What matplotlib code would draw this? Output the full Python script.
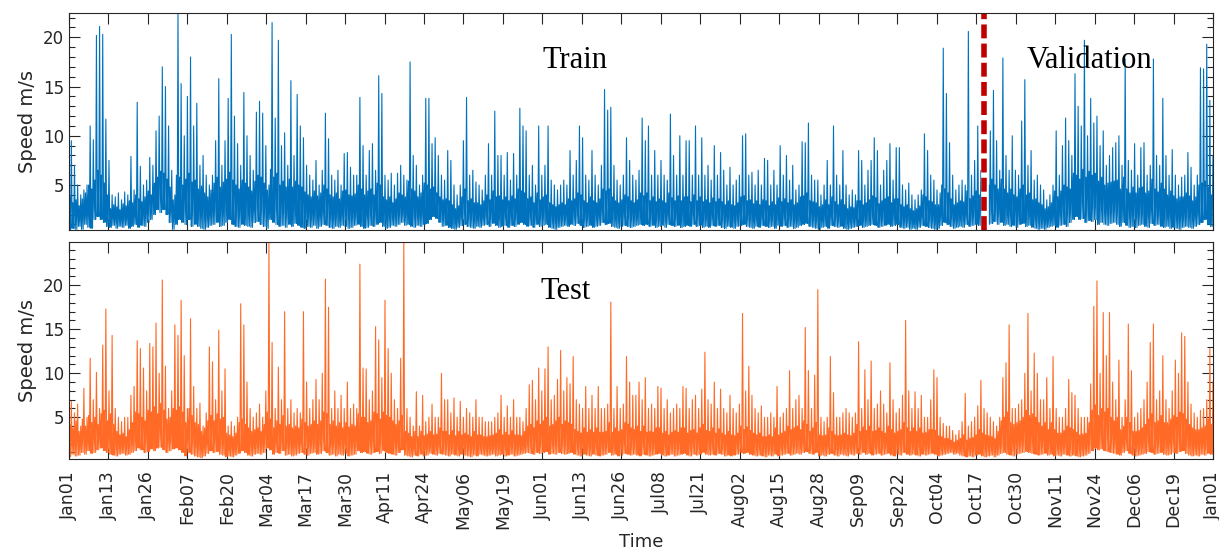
import matplotlib
matplotlib.use("Agg")
import matplotlib.pyplot as plt
import numpy as np
from matplotlib.ticker import MultipleLocator

plt.rcParams['font.family'] = ['DejaVu Sans']

# day labels shown under the lower panel (evenly spread over one year)
tick_labels = ['Jan01', 'Jan13', 'Jan26', 'Feb07', 'Feb20', 'Mar04', 'Mar17', 'Mar30',
               'Apr11', 'Apr24', 'May06', 'May19', 'Jun01', 'Jun13', 'Jun26', 'Jul08',
               'Jul21', 'Aug02', 'Aug15', 'Aug28', 'Sep09', 'Sep22', 'Oct04', 'Oct17',
               'Oct30', 'Nov11', 'Nov24', 'Dec06', 'Dec19', 'Jan01']

# train/validation split (day of year)
split_day = 291.8

# daily wind speed (m/s): peak, top of the dense band, floor
train_max = [
    9.5, 7, 5, 4, 4.5, 5, 11, 9.6, 20.2, 21.1,
    20.3, 11.7, 7.5, 4, 3.8, 4.2, 3.5, 4.3, 4, 7.9,
    4.5, 13.4, 6.9, 5, 5.5, 7.8, 7, 10.5, 12, 17,
    15, 11, 6.5, 4, 22.5, 15.3, 10, 14, 18, 11,
    13.3, 7, 8, 6, 5, 6, 9.5, 15.8, 7, 9.5,
    13.8, 20.3, 12, 9.2, 7, 14.4, 10, 8, 6.5, 12.4,
    13.5, 12.3, 9, 5, 21.5, 11.8, 19.7, 9, 10.3, 7,
    15.6, 8, 14.2, 11, 9.8, 7, 6, 5.5, 7.5, 5,
    6.5, 12.3, 9.7, 6, 5.5, 6.5, 5, 8.2, 8.3, 6.8,
    6, 6, 13.9, 9, 6, 8.5, 9.2, 6.5, 16.1, 14.3,
    6, 5.5, 6.2, 5, 6.2, 7, 6, 5.5, 17.5, 8,
    7, 5, 6, 13.8, 13.8, 9.2, 9.8, 8, 6, 5.5,
    8.5, 7.5, 5, 4, 5, 9.5, 13.9, 6, 6.5, 5.3,
    5, 4.5, 6, 9.2, 6, 12.5, 8, 8, 6, 8.3,
    5.5, 8.2, 6, 12.8, 11, 10.5, 6, 7, 5, 11,
    6, 7, 11, 5.5, 5, 4.5, 5, 5.5, 5, 8.5,
    6, 7.5, 11, 9.8, 6, 5.5, 8.5, 6, 5, 7,
    14.7, 12.6, 12.9, 7, 5.5, 5, 6, 9.8, 7.5, 6,
    5.5, 6.5, 11.8, 9.5, 11, 6, 8.5, 6, 7.5, 6,
    5.5, 12.2, 8, 6, 10, 6, 9.5, 9.5, 6, 11,
    6, 9.8, 6, 7, 5.5, 9, 6, 8.3, 6.5, 5,
    6.8, 5, 5.5, 6, 10, 10.2, 6, 6.3, 5, 6.5,
    5, 7.7, 7.5, 5, 6.5, 5, 9, 6, 8, 5.5,
    7, 4.5, 5, 9.4, 9.3, 11.3, 6, 5.5, 5.5, 4,
    5, 7.5, 5, 11, 6, 5, 8.5, 5, 4, 4.5,
    4, 8.5, 7.5, 5, 6.5, 7.5, 9.8, 8.5, 5, 6.5,
    7.5, 9.2, 5.5, 8.8, 8.8, 5, 4.5, 5.2, 4, 3.5,
    4, 4.5, 10.2, 8.5, 6, 5.5, 4.5, 4.2, 18.9, 14.3,
    9.3, 6, 4.5, 5, 5.5, 5, 20.6, 6, 7.5, 11,
    6.5, 5, 7, 10.5, 14.6, 9.5, 6.5, 17.9, 8, 6.5,
    10, 6.5, 6, 11.5, 15.7, 7, 8.5, 5.5, 6, 5,
    4.5, 3.5, 4, 5, 10.5, 6, 9, 11.8, 9.5, 8,
    16.3, 13, 11, 19.7, 10, 13.8, 11.3, 12, 9, 10.5,
    7, 8, 8.8, 9.3, 10, 7, 17.8, 7.5, 6.5, 9.2,
    6, 8.8, 9.3, 6, 7, 17.8, 8, 7, 13.8, 8,
    6, 8.6, 6, 5, 5.8, 6, 8.3, 6.8, 5, 6,
    16.9, 16.8, 19.3, 13.6, 8,
]
train_band = [
    3.8, 3.2, 3.5, 2.9, 3.6, 4.2, 5.0, 4.6, 5.5, 6.5,
    6.0, 5.2, 4.0, 2.6, 3.0, 2.8, 2.5, 3.1, 2.9, 3.4,
    3.2, 4.0, 3.6, 3.3, 3.8, 4.4, 4.0, 5.2, 5.8, 6.4,
    6.2, 5.6, 4.8, 3.5, 6.0, 5.8, 5.0, 5.6, 6.2, 5.3,
    5.5, 4.6, 4.9, 4.2, 3.8, 4.5, 5.2, 5.8, 4.8, 5.3,
    5.6, 6.3, 5.5, 5.0, 4.6, 5.5, 5.2, 4.8, 4.4, 5.4,
    6.0, 5.8, 5.2, 4.5, 6.6, 5.8, 6.2, 5.0, 5.4, 4.8,
    5.6, 4.8, 5.4, 5.0, 4.8, 4.3, 4.0, 3.8, 4.4, 3.9,
    4.2, 5.0, 4.6, 4.0, 3.8, 4.2, 3.6, 4.4, 4.5, 4.0,
    3.9, 4.1, 5.0, 4.6, 4.0, 4.4, 4.6, 4.0, 5.2, 5.0,
    3.8, 3.5, 3.8, 3.2, 3.6, 4.2, 4.0, 3.8, 5.4, 4.6,
    4.4, 3.8, 4.2, 5.2, 5.0, 4.6, 4.8, 4.2, 3.8, 3.5,
    3.6, 3.4, 3.0, 2.6, 2.9, 3.8, 4.6, 3.4, 3.6, 3.2,
    3.2, 3.0, 3.4, 4.0, 3.5, 4.4, 3.8, 3.9, 3.5, 3.8,
    3.4, 3.9, 3.6, 4.6, 4.4, 4.2, 3.6, 3.8, 3.2, 4.2,
    3.5, 3.8, 4.0, 3.2, 3.0, 2.8, 3.0, 3.2, 3.0, 3.6,
    3.4, 3.6, 4.2, 4.0, 3.4, 3.2, 3.8, 3.4, 3.2, 3.6,
    4.6, 4.4, 4.6, 3.8, 3.4, 3.2, 3.5, 4.0, 3.8, 3.4,
    3.2, 3.5, 4.2, 3.9, 4.2, 3.4, 3.8, 3.3, 3.6, 3.4,
    3.2, 4.2, 3.7, 3.4, 3.9, 3.4, 3.8, 3.8, 3.3, 4.0,
    3.4, 3.8, 3.3, 3.5, 3.2, 3.7, 3.3, 3.6, 3.3, 3.0,
    3.4, 3.0, 2.9, 3.2, 3.8, 3.9, 3.4, 3.5, 3.1, 3.4,
    3.0, 3.5, 3.4, 2.9, 3.3, 3.0, 3.7, 3.3, 3.6, 3.2,
    3.5, 3.0, 3.2, 3.8, 3.9, 4.2, 3.4, 3.3, 3.2, 2.8,
    3.0, 3.5, 3.0, 3.8, 3.3, 3.0, 3.5, 3.0, 2.6, 2.8,
    2.7, 3.4, 3.4, 3.0, 3.2, 3.5, 3.9, 3.7, 3.1, 3.4,
    3.6, 3.8, 3.2, 3.6, 3.6, 3.0, 2.8, 3.0, 2.6, 2.4,
    2.6, 2.9, 4.0, 3.8, 3.4, 3.3, 3.0, 3.0, 5.0, 4.6,
    4.2, 3.6, 3.0, 3.2, 3.4, 3.3, 4.4, 3.6, 3.9, 4.4,
    4.0, 3.8, 4.4, 5.0, 5.6, 5.0, 4.6, 5.6, 4.6, 4.2,
    4.6, 4.0, 3.8, 4.6, 5.0, 4.0, 4.2, 3.5, 3.6, 3.2,
    3.0, 2.6, 2.8, 3.2, 4.4, 3.8, 4.4, 5.0, 4.8, 4.6,
    6.2, 6.0, 5.6, 6.6, 5.8, 6.4, 6.0, 6.2, 5.4, 5.8,
    5.0, 5.2, 5.3, 5.4, 5.5, 4.6, 5.8, 4.6, 4.2, 4.8,
    4.2, 4.7, 4.8, 4.2, 4.4, 5.6, 4.6, 4.3, 5.2, 4.6,
    4.0, 4.4, 3.9, 3.6, 3.8, 3.8, 4.2, 3.9, 3.4, 3.8,
    5.0, 5.2, 5.4, 4.8, 4.0,
]
train_min = [
    0.5, 0.6, 0.5, 0.8, 0.5, 1.0, 0.7, 0.6, 1.5, 1.8,
    1.5, 1.2, 0.8, 0.7, 0.9, 0.6, 0.8, 0.7, 0.9, 0.6,
    0.8, 1.0, 0.7, 0.9, 0.8, 1.2, 1.5, 2.0, 2.5, 2.2,
    2.5, 2.0, 1.2, 0.5, 1.0, 1.5, 1.2, 1.0, 1.5, 0.8,
    1.0, 0.8, 0.6, 0.5, 0.7, 0.9, 1.0, 1.2, 0.8, 0.9,
    1.2, 1.5, 1.0, 0.8, 0.7, 1.0, 0.9, 0.8, 0.7, 1.2,
    1.3, 1.0, 0.8, 0.6, 1.5, 1.2, 1.0, 0.8, 0.9, 0.7,
    1.0, 0.8, 1.1, 0.9, 0.7, 0.6, 0.8, 0.7, 0.9, 0.6,
    0.8, 1.0, 0.9, 0.7, 0.6, 0.8, 0.7, 0.9, 0.8, 0.6,
    0.7, 0.9, 1.0, 0.8, 0.6, 0.7, 0.9, 0.8, 1.0, 1.2,
    0.8, 0.6, 0.7, 0.9, 0.8, 1.0, 1.2, 0.9, 1.0, 0.8,
    0.7, 0.9, 0.8, 1.0, 1.1, 1.5, 1.8, 1.6, 1.2, 0.8,
    0.9, 0.7, 0.6, 0.5, 0.7, 0.9, 1.0, 0.8, 0.7, 0.6,
    0.8, 0.7, 0.9, 1.0, 0.8, 1.1, 0.9, 0.7, 0.8, 0.9,
    0.7, 0.9, 0.8, 1.0, 1.2, 1.0, 0.8, 0.9, 0.7, 1.0,
    0.8, 0.9, 1.0, 0.7, 0.6, 0.5, 0.7, 0.8, 0.9, 0.8,
    1.0, 0.9, 1.1, 0.9, 0.7, 0.8, 0.9, 0.7, 0.8, 0.9,
    1.2, 1.0, 1.1, 0.8, 0.7, 0.6, 0.8, 0.9, 0.8, 0.7,
    0.8, 0.9, 1.0, 0.9, 1.0, 0.8, 0.9, 0.7, 0.8, 0.9,
    0.7, 1.0, 0.9, 0.8, 0.9, 0.7, 0.8, 0.9, 0.8, 1.0,
    0.8, 0.9, 0.7, 0.8, 0.7, 0.9, 0.8, 0.9, 0.7, 0.6,
    0.8, 0.7, 0.6, 0.8, 0.9, 1.0, 0.8, 0.7, 0.6, 0.8,
    0.7, 0.9, 0.8, 0.7, 0.8, 0.6, 0.9, 0.8, 0.9, 0.7,
    0.8, 0.6, 0.7, 0.9, 1.0, 1.1, 0.8, 0.7, 0.6, 0.5,
    0.7, 0.8, 0.6, 0.9, 0.8, 0.7, 0.8, 0.6, 0.5, 0.6,
    0.7, 0.8, 0.9, 0.7, 0.8, 0.9, 1.0, 0.9, 0.7, 0.8,
    0.9, 1.0, 0.8, 0.9, 1.0, 0.7, 0.6, 0.7, 0.5, 0.6,
    0.5, 0.7, 0.9, 0.8, 0.7, 0.6, 0.5, 0.6, 0.9, 1.2,
    1.0, 0.8, 0.6, 0.7, 0.8, 0.7, 1.0, 0.8, 0.9, 1.0,
    0.9, 0.8, 1.2, 1.0, 1.1, 1.3, 1.0, 1.2, 0.9, 1.0,
    0.8, 0.9, 0.7, 1.0, 1.1, 0.8, 0.9, 0.7, 0.6, 0.5,
    0.6, 0.5, 0.7, 0.8, 0.9, 0.7, 0.9, 1.0, 0.8, 1.2,
    1.5, 1.8, 1.5, 1.6, 1.2, 1.4, 1.3, 1.5, 1.0, 1.2,
    1.0, 0.9, 1.1, 1.2, 1.0, 0.8, 1.2, 0.9, 0.7, 0.8,
    0.7, 0.9, 1.0, 0.8, 0.7, 1.1, 0.9, 1.0, 0.8, 0.7,
    0.8, 0.6, 0.7, 0.6, 0.5, 0.7, 0.8, 0.7, 0.6, 0.8,
    1.0, 1.2, 1.5, 1.0, 0.8,
]

test_max = [
    6.8, 5.5, 6.5, 4, 8.3, 5, 11.7, 7, 10.1, 6,
    13.2, 17.3, 8, 14.3, 6, 5, 4.5, 5, 5, 7.5,
    8.5, 13.7, 12.8, 10.6, 8, 13.4, 13, 15.7, 10, 20.6,
    10.8, 6, 8, 15.5, 14.3, 18.3, 12, 6, 16.2, 8.5,
    6, 6.6, 4, 5.5, 13, 11.3, 7, 14.9, 8, 10.5,
    4, 4.5, 4, 5, 17.9, 15.5, 9, 6, 5, 5.5,
    6.5, 5, 8, 24.9, 13.5, 6, 10.7, 7, 17, 6,
    7, 5.5, 6, 5.5, 17, 9, 6, 7, 9.3, 7,
    10, 20.7, 17.5, 6, 8, 6, 7.5, 6, 9, 6,
    6.5, 6, 22.4, 10.6, 10.5, 7, 8, 15.3, 13.8, 9.5,
    18.3, 12.8, 10, 7, 6, 11.7, 24.9, 6, 5, 4,
    7.9, 4, 7.5, 4.5, 5, 6.5, 5, 5, 10, 7,
    7, 5.5, 7.2, 5, 6.8, 5, 6, 5.5, 5, 7,
    5, 5, 4.5, 4.5, 4.5, 5, 5.5, 7.5, 5, 6.3,
    5, 7, 5, 5, 4.5, 6, 8.7, 9.2, 7, 10.6,
    8, 10.5, 13, 7, 7.5, 9.3, 12.6, 8, 9.5, 8.8,
    11.9, 7, 6.5, 6, 8.5, 6, 7.5, 6, 8.5, 6,
    6, 6.5, 18.1, 6, 8.5, 6, 6.5, 11.9, 9, 7.5,
    7.5, 9, 7, 9.5, 6, 6.5, 6, 8.5, 8.3, 6,
    7, 5.5, 6, 6.5, 6, 8.5, 8.3, 6, 7, 7.5,
    6, 8.2, 12.4, 7, 6.5, 9, 6, 8.2, 6, 5.5,
    7.5, 6, 5.5, 6.5, 16.8, 8, 10.8, 7.5, 6, 5.5,
    6.3, 5, 5, 5.5, 5, 8.5, 5, 5.5, 6, 10.3,
    6, 7, 7.5, 6, 15.2, 10.3, 6, 9.8, 19.5, 5,
    4.5, 5, 11.9, 7.8, 5, 5, 5.5, 6, 5.5, 5,
    5.5, 13.6, 6, 10.4, 7, 11.4, 6, 6.5, 8, 6.5,
    5.5, 11.2, 7, 5.5, 6, 7.5, 16, 8, 6, 7.9,
    6, 7.5, 5, 5, 7, 10.4, 9.5, 5, 4.3, 4,
    4, 3.5, 3, 3.5, 4.5, 7.7, 4, 4.5, 5, 6.3,
    9.2, 6, 5.5, 5, 4.5, 4, 5, 9.5, 11.2, 15.5,
    6, 6, 6.5, 7, 10, 16.8, 8, 12.3, 10, 7,
    7, 9.5, 6, 11.9, 6, 5, 5, 6, 9.3, 7.8,
    7.5, 6, 5, 5, 5, 8.8, 17.6, 20.5, 10, 16.9,
    12, 16.9, 9, 7, 11.5, 5, 7, 15.6, 10.3, 5,
    5.5, 6, 7, 9, 13.5, 15.6, 7, 8, 12, 7,
    6, 8, 11.5, 10, 14.6, 14.2, 9, 6.5, 5.5, 5,
    5.8, 6, 7, 12.8, 9,
]
test_band = [
    4.2, 3.8, 4.6, 3.4, 4.8, 4.0, 5.2, 4.4, 5.0, 4.2,
    5.4, 5.8, 4.6, 5.4, 4.2, 3.4, 3.0, 3.2, 2.8, 3.6,
    4.4, 5.6, 5.4, 5.0, 4.6, 5.8, 5.6, 6.2, 5.4, 6.6,
    5.8, 4.8, 5.0, 6.0, 5.8, 6.2, 5.6, 4.4, 6.0, 5.2,
    4.4, 4.2, 3.4, 3.8, 4.6, 5.2, 4.6, 5.4, 4.8, 5.0,
    3.2, 3.0, 2.8, 3.2, 4.4, 4.8, 4.2, 3.8, 3.4, 3.6,
    3.8, 3.4, 4.2, 5.6, 4.8, 3.8, 4.6, 4.2, 5.2, 4.0,
    4.2, 3.8, 4.0, 3.8, 4.8, 4.4, 4.0, 4.2, 4.6, 4.2,
    4.6, 5.6, 5.4, 4.2, 4.6, 4.0, 4.4, 3.8, 4.4, 3.9,
    4.2, 4.0, 5.4, 5.0, 5.0, 4.4, 4.6, 5.6, 5.4, 4.8,
    5.6, 5.2, 5.0, 4.6, 4.2, 4.6, 5.2, 3.4, 3.2, 2.8,
    3.4, 2.8, 3.4, 2.9, 3.1, 3.4, 3.0, 3.1, 3.8, 3.4,
    3.4, 3.0, 3.5, 2.9, 3.4, 3.0, 3.2, 3.0, 2.8, 3.4,
    3.0, 3.0, 2.8, 2.8, 2.9, 3.0, 3.2, 3.6, 3.0, 3.3,
    3.0, 3.5, 3.0, 3.0, 2.9, 3.4, 4.0, 4.2, 3.8, 4.6,
    4.2, 4.6, 5.0, 4.0, 4.2, 4.6, 5.0, 4.2, 4.6, 4.4,
    4.2, 3.6, 3.4, 3.2, 3.8, 3.3, 3.6, 3.3, 3.8, 3.3,
    3.3, 3.4, 4.4, 3.3, 3.8, 3.4, 3.6, 4.4, 4.2, 3.8,
    3.6, 4.0, 3.4, 4.0, 3.3, 3.4, 3.3, 3.8, 3.8, 3.2,
    3.4, 3.0, 3.3, 3.5, 3.3, 3.8, 3.8, 3.2, 3.5, 3.6,
    3.2, 3.8, 4.2, 3.5, 3.4, 3.8, 3.2, 3.7, 3.2, 3.0,
    3.4, 3.0, 2.9, 3.2, 4.0, 3.6, 3.9, 3.5, 3.2, 3.0,
    3.2, 2.8, 2.8, 3.0, 2.8, 3.8, 3.0, 3.2, 3.4, 4.0,
    3.6, 3.8, 4.0, 3.6, 4.6, 4.2, 3.4, 3.8, 4.4, 3.0,
    2.9, 3.0, 3.8, 3.4, 3.0, 2.9, 3.0, 3.2, 3.0, 2.9,
    3.2, 4.2, 3.4, 3.9, 3.5, 4.0, 3.4, 3.5, 3.8, 3.4,
    3.2, 4.0, 3.6, 3.2, 3.4, 3.6, 4.4, 3.8, 3.4, 3.8,
    3.4, 3.8, 3.2, 3.3, 3.6, 3.6, 3.5, 2.9, 2.8, 2.6,
    2.6, 2.4, 2.2, 2.4, 2.6, 3.0, 2.4, 2.6, 2.7, 3.0,
    3.6, 3.2, 3.0, 2.9, 2.8, 2.6, 3.4, 4.6, 5.0, 5.6,
    4.4, 4.2, 4.4, 4.6, 5.0, 5.8, 5.2, 5.4, 5.0, 4.4,
    4.0, 4.4, 3.6, 4.4, 3.6, 3.2, 3.2, 3.5, 4.0, 3.8,
    3.6, 3.3, 3.0, 3.1, 3.2, 4.4, 5.8, 6.4, 5.2, 6.0,
    5.6, 6.0, 5.0, 4.6, 5.0, 3.6, 4.0, 5.0, 4.4, 3.4,
    3.4, 3.5, 3.8, 4.2, 4.8, 5.4, 4.4, 4.6, 5.2, 4.4,
    4.4, 4.8, 5.2, 5.0, 5.6, 5.4, 4.8, 4.2, 3.8, 3.6,
    3.6, 3.8, 4.0, 4.8, 4.2,
]
test_min = [
    0.5, 0.8, 0.6, 0.7, 1.0, 0.8, 1.2, 0.9, 1.0, 1.3,
    1.5, 1.2, 1.0, 0.8, 0.7, 0.6, 0.8, 0.9, 0.7, 0.8,
    1.0, 1.2, 1.5, 1.3, 1.0, 1.1, 1.4, 1.2, 1.5, 1.6,
    1.3, 1.0, 1.2, 1.4, 1.5, 1.3, 1.0, 0.6, 1.0, 0.8,
    0.6, 0.5, 0.4, 0.6, 0.9, 1.2, 1.0, 1.1, 0.8, 0.7,
    0.5, 0.6, 0.5, 0.7, 0.9, 1.2, 1.0, 0.7, 0.6, 0.8,
    0.9, 0.8, 1.0, 1.5, 1.3, 0.8, 1.0, 0.9, 1.2, 0.7,
    0.8, 0.6, 0.7, 0.9, 1.0, 0.8, 0.7, 0.9, 1.0, 0.8,
    0.9, 1.2, 1.0, 0.7, 0.8, 0.6, 0.8, 0.7, 0.9, 0.6,
    0.7, 0.8, 1.2, 1.0, 1.1, 0.9, 0.8, 1.0, 1.1, 0.9,
    1.2, 1.0, 0.9, 0.8, 0.7, 1.0, 1.3, 0.7, 0.6, 0.5,
    0.7, 0.6, 0.8, 0.6, 0.7, 0.9, 0.8, 0.7, 0.9, 0.8,
    0.7, 0.6, 0.8, 0.7, 0.6, 0.8, 0.7, 0.6, 0.5, 0.7,
    0.6, 0.8, 0.7, 0.6, 0.7, 0.8, 0.6, 0.7, 0.8, 0.6,
    0.7, 0.8, 0.6, 0.7, 0.8, 0.9, 1.0, 0.9, 0.8, 1.0,
    0.9, 1.0, 1.1, 0.8, 0.9, 0.8, 1.0, 0.9, 0.8, 0.9,
    1.0, 0.8, 0.7, 0.6, 0.8, 0.7, 0.6, 0.8, 0.7, 0.6,
    0.7, 0.8, 1.0, 0.7, 0.8, 0.6, 0.7, 0.9, 0.8, 0.7,
    0.8, 0.7, 0.6, 0.8, 0.7, 0.6, 0.7, 0.8, 0.9, 0.7,
    0.6, 0.7, 0.8, 0.6, 0.7, 0.8, 0.9, 0.7, 0.6, 0.8,
    0.7, 0.8, 1.0, 0.8, 0.7, 0.8, 0.7, 0.9, 0.8, 0.6,
    0.7, 0.6, 0.7, 0.8, 1.0, 0.9, 1.0, 0.8, 0.7, 0.6,
    0.7, 0.6, 0.5, 0.7, 0.6, 0.8, 0.6, 0.7, 0.8, 0.9,
    0.7, 0.8, 0.9, 0.8, 1.0, 1.1, 0.9, 0.8, 1.0, 0.6,
    0.7, 0.6, 0.8, 0.9, 0.7, 0.6, 0.8, 0.7, 0.6, 0.8,
    0.7, 0.9, 0.8, 1.0, 0.8, 0.9, 0.7, 0.8, 0.9, 0.7,
    0.8, 0.9, 0.7, 0.6, 0.8, 0.7, 1.0, 0.8, 0.7, 0.8,
    0.7, 0.6, 0.8, 0.7, 0.8, 0.9, 0.8, 0.6, 0.7, 0.8,
    0.9, 1.0, 0.8, 0.9, 0.7, 0.6, 0.5, 0.6, 0.5, 0.7,
    0.8, 0.6, 0.5, 0.6, 0.7, 0.5, 0.7, 0.9, 1.0, 0.8,
    0.7, 0.6, 0.8, 0.9, 1.0, 1.1, 1.0, 0.9, 0.8, 0.7,
    0.8, 0.9, 0.7, 0.8, 0.6, 0.7, 0.6, 0.8, 0.7, 0.6,
    0.7, 0.6, 0.5, 0.6, 0.7, 0.9, 1.2, 1.5, 1.3, 1.4,
    1.2, 1.1, 1.0, 0.9, 0.8, 0.7, 1.0, 1.2, 0.9, 0.7,
    0.6, 0.7, 0.8, 0.9, 1.1, 1.0, 0.8, 0.9, 1.0, 0.8,
    0.7, 0.8, 1.0, 0.9, 1.1, 1.2, 0.9, 0.7, 0.6, 0.7,
    0.6, 0.8, 0.7, 0.9, 0.8,
]


def hourly_like(lows, band, highs):
    # each day: floor, band top, floor, peak -> a thin line that fills like hourly data
    lows = np.asarray(lows, dtype=float)
    highs = np.asarray(highs, dtype=float)
    mid = np.minimum(np.asarray(band, dtype=float), highs)
    y = np.empty(4 * len(lows))
    y[0::4] = lows
    y[1::4] = mid
    y[2::4] = lows
    y[3::4] = highs
    x = np.linspace(0, 365, len(y))
    return x, y


W, H = 1219, 553
fig = plt.figure(figsize=(W / 100, H / 100), dpi=100)
ax1 = fig.add_axes([69 / W, 1 - 230 / H, 1144 / W, 217 / H])
ax2 = fig.add_axes([69 / W, 1 - 459 / H, 1144 / W, 217.3 / H])

x1, y1 = hourly_like(train_min, train_band, train_max)
x2, y2 = hourly_like(test_min, test_band, test_max)
ax1.plot(x1, y1, color='#0072BD', lw=0.8)
ax2.plot(x2, y2, color='#FF6A26', lw=0.8)

ax1.axvline(split_day + 0.3, color='white', lw=5.5)
ax1.axvline(split_day, color='#C00000', lw=4, linestyle=(0, (2.5, 0.95)))

ax1.set_ylim(0.43, 22.47)
ax2.set_ylim(0.26, 24.95)

tick_pos = np.linspace(0, 365, len(tick_labels))
edge = '#262626'
for ax in (ax1, ax2):
    ax.set_xlim(0, 365)
    ax.set_xticks(tick_pos)
    ax.set_yticks([5, 10, 15, 20])
    ax.yaxis.set_minor_locator(MultipleLocator(1))
    ax.tick_params(which='both', direction='in', top=True, right=True,
                   colors=edge, labelsize=12, width=0.8)
    ax.tick_params(which='major', length=8)
    ax.tick_params(which='minor', length=4.5)
    for s in ax.spines.values():
        s.set_color(edge)
        s.set_linewidth(0.8)
    ax.set_ylabel('Speed m/s', fontsize=14, color=edge, labelpad=4)

ax1.set_xticklabels([])
ax2.set_xticklabels(tick_labels, rotation=90)
ax2.tick_params(axis='x', labelsize=12.5, pad=8.5)
ax2.set_xlabel('Time', fontsize=13, color=edge, labelpad=3)

serif = ['Liberation Serif', 'DejaVu Serif']
ax1.text(0.442, 0.783, 'Train', transform=ax1.transAxes, family=serif,
         fontsize=22, ha='center', va='center')
ax1.text(0.892, 0.783, 'Validation', transform=ax1.transAxes, family=serif,
         fontsize=22, ha='center', va='center')
ax2.text(0.434, 0.773, 'Test', transform=ax2.transAxes, family=serif,
         fontsize=22, ha='center', va='center')

fig.savefig('out.png', dpi=100)
